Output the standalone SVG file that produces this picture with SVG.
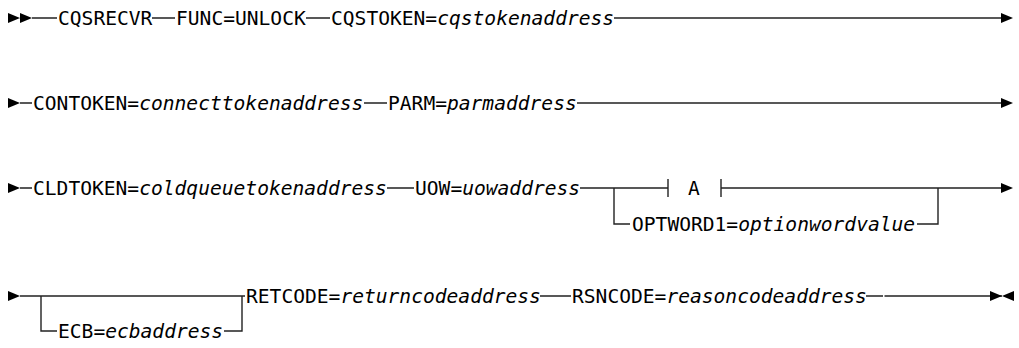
<svg xmlns="http://www.w3.org/2000/svg" width="1019" height="348" viewBox="0 0 1019 348">
<defs>
<style>
text{font-family:"DejaVu Sans Mono","Liberation Mono",monospace;font-size:19.6px;fill:#000}
.v{font-style:italic}
.ln{stroke:#222;stroke-width:1.4;fill:none}
.ah{fill:#000}
</style>
</defs>
<rect width="1019" height="348" fill="#fff"/>
<g id="connectors">
<!-- row 1 -->
<path class="ah" d="M8,13 L20,18 L8,23 Z M20,13 L32,18 L20,23 Z"/>
<path class="ln" d="M32,18 H57 M152,18 H175 M306,18 H330 M614,18 H1002"/>
<path class="ah" d="M1001,13 L1013,18 L1001,23 Z"/>
<!-- row 2 -->
<path class="ah" d="M8,98 L20,103 L8,108 Z"/>
<path class="ln" d="M20,103 H32 M364,103 H387 M577,103 H1002"/>
<path class="ah" d="M1001,98 L1013,103 L1001,108 Z"/>
<!-- row 3 -->
<path class="ah" d="M8,183 L20,188 L8,193 Z"/>
<path class="ln" d="M20,188 H32 M387,188 H414 M580,188 H668 M668,179 V197 M721,179 V197 M721,188 H1002"/>
<path class="ln" d="M614,188 V224 H630 M917,224 H938 V188"/>
<path class="ah" d="M1001,183 L1013,188 L1001,193 Z"/>
<!-- row 4 -->
<path class="ah" d="M8,291 L20,296 L8,301 Z"/>
<path class="ln" d="M20,296 H245 M41,296 V331 H57 M224,331 H242 V296 M540,296 H571 M866,296 H883 M884.5,296 H1002"/>
<path class="ah" d="M990,291 L1002,296 L990,301 Z M1014,291 L1002,296 L1014,301 Z"/>
</g>
<g id="n-cqsrecvr"><text x="58" y="25">CQSRECVR</text></g>
<g id="n-func"><text x="176" y="25">FUNC=UNLOCK</text></g>
<g id="n-cqstoken"><text x="331" y="25">CQSTOKEN=<tspan class="v">cqstokenaddress</tspan></text></g>
<g id="n-contoken"><text x="33" y="110">CONTOKEN=<tspan class="v">connecttokenaddress</tspan></text></g>
<g id="n-parm"><text x="388" y="110">PARM=<tspan class="v">parmaddress</tspan></text></g>
<g id="n-cldtoken"><text x="33" y="195">CLDTOKEN=<tspan class="v">coldqueuetokenaddress</tspan></text></g>
<g id="n-uow"><text x="415" y="195">UOW=<tspan class="v">uowaddress</tspan></text></g>
<g id="n-a"><text x="688" y="195">A</text></g>
<g id="n-optword1"><text x="632" y="231">OPTWORD1=<tspan class="v">optionwordvalue</tspan></text></g>
<g id="n-ecb"><text x="58" y="338">ECB=<tspan class="v">ecbaddress</tspan></text></g>
<g id="n-retcode"><text x="246" y="303">RETCODE=<tspan class="v">returncodeaddress</tspan></text></g>
<g id="n-rsncode"><text x="572" y="303">RSNCODE=<tspan class="v">reasoncodeaddress</tspan></text></g>
</svg>
